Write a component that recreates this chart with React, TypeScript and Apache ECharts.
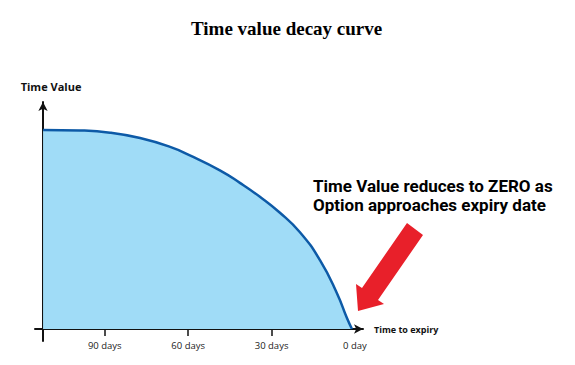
import React, { useEffect, useRef } from "react";
import * as echarts from "echarts";

// Curve readings: days left to expiry vs. time value (relative units)
const daysLeft = [112.2, 98.9, 88.1, 77.3, 66.5, 59.4, 48.6, 41.4, 34.2, 27.0, 19.8, 12.6, 6.5, 2.9, 1.1];
const timeValue = [100, 99.7, 98.6, 95.9, 91.5, 87.2, 79.7, 73.4, 66.4, 58.4, 48.6, 34.6, 18.0, 5.5, 0];

// Axis ticks
const tickDays = [90, 60, 30, 0];
const tickLabels = ["90 days", "60 days", "30 days", "0 day"];
const tickMarks = [90, 60, 30];

const titleText = "Time value decay curve";
const yName = "Time Value";
const xName = "Time to expiry";
const noteLines = ["Time Value reduces to ZERO as", "Option approaches expiry date"];

export default function App() {
  const ref = useRef<HTMLDivElement>(null);
  useEffect(() => {
    document.body.style.margin = "0";
    if (!ref.current) return;
    const chart = echarts.init(ref.current, null, { renderer: "svg" });
    const axisCol = "#111";
    const xCommon = {
      type: "value",
      inverse: true,
      min: -2.88,
      max: 115.1,
      position: "bottom",
      offset: -12,
      splitLine: { show: false },
    };
    chart.setOption({
      animation: false,
      backgroundColor: "#fff",
      title: {
        text: titleText,
        left: 186,
        top: 14,
        textStyle: {
          fontFamily: "Liberation Serif",
          fontWeight: "bold",
          fontSize: 19,
          color: "#000",
        },
      },
      grid: { left: 35, right: 212, top: 102, bottom: 24, containLabel: false, outerBoundsMode: "none" },
      xAxis: [
        {
          ...xCommon,
          name: xName,
          nameLocation: "start",
          nameGap: 11,
          nameTextStyle: {
            fontFamily: "Open Sans",
            fontWeight: "bold",
            fontSize: 9,
            color: "#111",
            align: "left",
            verticalAlign: "middle",
          },
          axisLine: {
            show: true,
            onZero: false,
            symbol: ["none", "arrow"],
            symbolSize: [7, 9],
            lineStyle: { color: axisCol, width: 2 },
          },
          axisTick: {
            show: true,
            length: 7,
            customValues: tickMarks,
            lineStyle: { color: axisCol, width: 1.5 },
          },
          axisLabel: {
            customValues: tickDays,
            margin: 11,
            fontFamily: "Open Sans",
            fontSize: 9.5,
            color: "#222",
            formatter: (v: number) => {
              const i = tickDays.indexOf(v);
              return i >= 0 ? tickLabels[i] : "";
            },
          },
        },
        {
          ...xCommon,
          axisLine: { show: false, onZero: false },
          axisTick: {
            show: true,
            inside: true,
            length: 7,
            customValues: tickMarks,
            lineStyle: { color: axisCol, width: 1.5 },
          },
          axisLabel: { show: false },
        },
      ],
      yAxis: {
        type: "value",
        min: -6,
        max: 114,
        offset: -8,
        name: yName,
        nameLocation: "end",
        nameGap: 10,
        nameTextStyle: {
          fontFamily: "Open Sans",
          fontWeight: "bold",
          fontSize: 11,
          color: "#111",
          align: "center",
          padding: [0, 0, 0, 16],
        },
        splitLine: { show: false },
        axisTick: { show: false },
        axisLabel: { show: false },
        axisLine: {
          show: true,
          onZero: false,
          symbol: ["none", "arrow"],
          symbolSize: [7, 9],
          lineStyle: { color: axisCol, width: 2 },
        },
      },
      series: [
        {
          type: "line",
          data: daysLeft.map((d, i) => [d, timeValue[i]]),
          smooth: 0.5,
          showSymbol: false,
          lineStyle: { color: "#0d5aa7", width: 2.5 },
          areaStyle: { color: "#a0dcf7", opacity: 1 },
          z: 1,
        },
      ],
      graphic: [
        {
          type: "polygon",
          shape: {
            points: [
              [407, 223],
              [423, 235],
              [378, 300],
              [384, 304],
              [358, 311],
              [356, 284],
              [362, 288],
            ],
          },
          style: { fill: "#e8202a" },
        },
        {
          type: "text",
          left: 313,
          top: 176,
          style: {
            text: noteLines.join("\n"),
            fontFamily: "Roboto",
            fontWeight: "bold",
            fontSize: 17,
            lineHeight: 19,
            fill: "#000",
          },
        },
      ],
    });
    return () => chart.dispose();
  }, []);
  return <div ref={ref} style={{ width: 575, height: 365 }} />;
}
